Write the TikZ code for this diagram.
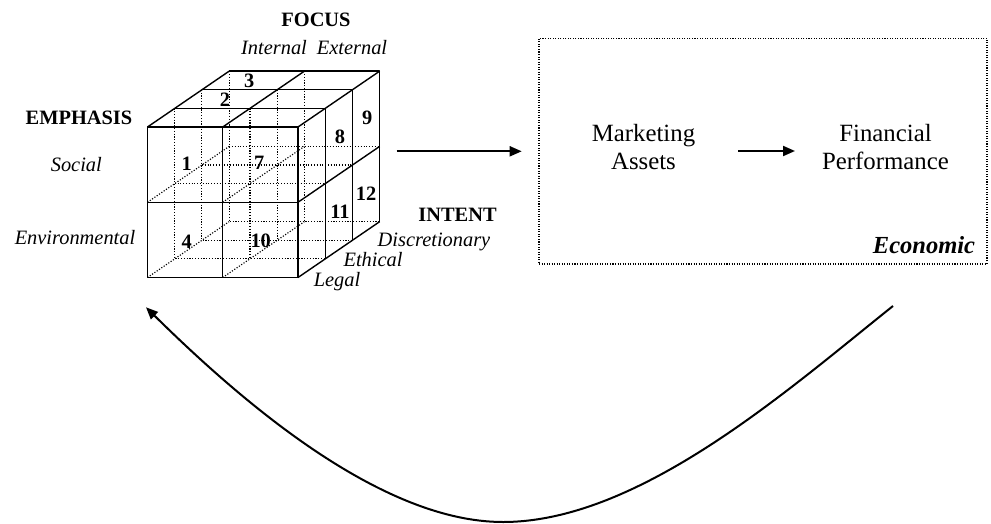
\documentclass[tikz,border=0pt]{standalone}
\usepackage{fontspec}
\setmainfont{Liberation Serif}
\usetikzlibrary{arrows.meta}
\begin{document}
\begin{tikzpicture}[x=0.75pt,y=-0.75pt,
  cubeline/.style={line width=1.05pt, line join=round},
  hidden/.style={line width=0.85pt, dash pattern=on 0.85pt off 1.25pt},
  num/.style={font=\fontsize{15.3}{15}\selectfont\bfseries, inner sep=0pt},
  lab/.style={font=\fontsize{15.3}{15}\selectfont\itshape, inner sep=0pt, anchor=base},
  headlab/.style={font=\fontsize{15.3}{15}\selectfont\bfseries, inner sep=0pt, anchor=base},
  bigtext/.style={font=\fontsize{18.6}{21.2}\selectfont, align=center, inner sep=0pt},
  arr/.style={line width=1.5pt, -{Triangle[length=9pt,width=7.5pt]}},
]
\useasboundingbox (0,0) rectangle (991,524);

% ---------- hidden (dotted) lines of the cube ----------
\foreach \k in {1,2,3}{
  \begin{scope}[shift={({\k*27.2},{-\k*18.6})}]
    \draw[hidden] (147.5,127) -- (147.5,277.5) -- (298,277.5);
    \draw[hidden] (222.75,127) -- (222.75,277.5);
    \draw[hidden] (147.5,202.25) -- (298,202.25);
  \end{scope}
}
\draw[hidden] (147.5,202.25) -- ++(81.6,-55.8)
              (147.5,277.5) -- ++(81.6,-55.8)
              (222.75,202.25) -- ++(81.6,-55.8)
              (222.75,277.5) -- ++(81.6,-55.8);

% ---------- visible lines of the cube ----------
\draw[cubeline] (147.5,127) rectangle (298,277.5);
\draw[cubeline] (222.75,127) -- (222.75,277.5) (147.5,202.25) -- (298,202.25);
\foreach \k in {1,2,3}{
  \begin{scope}[shift={({\k*27.2},{-\k*18.6})}]
    \draw[cubeline] (147.5,127) -- (298,127) -- (298,277.5);
  \end{scope}
}
\draw[cubeline] (147.5,127) -- ++(81.6,-55.8)
                (222.75,127) -- ++(81.6,-55.8)
                (298,127) -- ++(81.6,-55.8)
                (298,202.25) -- ++(81.6,-55.8)
                (298,277.5) -- ++(81.6,-55.8);

% ---------- cell numbers ----------
\node[num] (n1) at (186.7,163.3) {1};
\node[num] (n2) at (225,100) {2};
\node[num] (n3) at (249.3,81) {3};
\node[num] (n4) at (186.7,241.7) {4};
\node[num] (n7) at (259.3,163.3) {7};
\node[num] (n8) at (340,136.7) {8};
\node[num] (n9) at (367.3,118.3) {9};
\node[num] (n10) at (260.7,240.7) {10};
\node[num] (n11) at (340,211.7) {11};
\node[num] (n12) at (366,193.3) {12};

% ---------- axis labels ----------
\node[headlab] (focus) at (316,26.7) {FOCUS};
\node[lab] (int) at (274,55) {Internal};
\node[lab] (ext) at (352,55) {External};
\node[headlab] (emph) at (79,125) {EMPHASIS};
\node[lab] (soc) at (76.3,171.7) {Social};
\node[lab] (env) at (75,244.3) {Environmental};
\node[headlab] (intent) at (457.5,221.7) {INTENT};
\node[lab] (disc) at (434,246.7) {Discretionary};
\node[lab] (eth) at (373,266.7) {Ethical};
\node[lab] (leg) at (337,286.7) {Legal};

% ---------- economic box ----------
\node[draw, line width=0.8pt, dash pattern=on 0.8pt off 1.1pt,
      minimum width=336pt, minimum height=169.3pt, inner sep=0pt]
      (econ) at (763,151.15) {};
\node[bigtext] (ma) at (643.5,147.3) {Marketing\\Assets};
\node[bigtext] (fp) at (885.5,147.3) {Financial\\Performance};
\node[font=\fontsize{18.4}{20}\selectfont\bfseries\itshape, inner sep=0pt, anchor=base]
      (eco) at (924,253.3) {Economic};

% ---------- arrows ----------
\coordinate (c1) at (396.7,151.3);
\coordinate (c2) at (521.7,151.3);
\draw[arr] (c1) -- (c2);
\coordinate (m1) at (738.3,151);
\coordinate (m2) at (795,151);
\draw[arr] (m1) -- (m2);

\coordinate (cr) at (893,306);
\coordinate (cb) at (503,522);
\coordinate (cl) at (146,307.3);
\draw[arr] (cr) .. controls (790,388) and (640,522) .. (cb)
               .. controls (380,522) and (240,400) .. (cl);
\end{tikzpicture}
\end{document}
